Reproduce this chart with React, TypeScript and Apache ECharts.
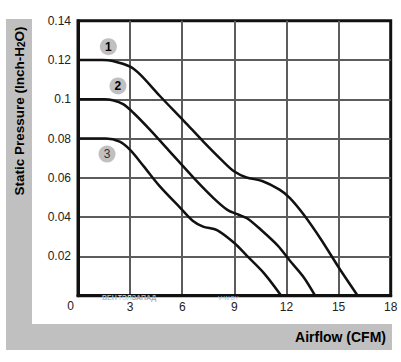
import React, { useEffect, useRef } from "react";
import * as echarts from "echarts";

const xTicks = [0, 3, 6, 9, 12, 15, 18];
const yTicks = [0.02, 0.04, 0.06, 0.08, 0.1, 0.12, 0.14];

const curve1: [number, number][] = [
  [0, 0.12], [1.4, 0.12], [2, 0.1195], [3, 0.1166], [3.6, 0.1124], [4.7, 0.1018],
  [6.1, 0.0889], [7.2, 0.0786], [8.3, 0.0688], [9, 0.0632], [9.7, 0.0602], [10.6, 0.0584],
  [11.6, 0.054], [12.2, 0.0497], [13, 0.0412], [14, 0.0285], [15, 0.0145], [16.1, 0],
];
const curve2: [number, number][] = [
  [0, 0.1], [1.5, 0.1], [2, 0.0995], [2.6, 0.0975], [3.2, 0.093], [4.15, 0.0844],
  [5.3, 0.0732], [6.7, 0.0596], [7.8, 0.0497], [8.6, 0.0437], [9.25, 0.0412], [9.75, 0.0393],
  [10.5, 0.0338], [11.5, 0.0255], [12.2, 0.0178], [13, 0.0093], [13.65, 0],
];
const curve3: [number, number][] = [
  [0, 0.08], [1.6, 0.08], [2.4, 0.0784], [3, 0.0742], [3.8, 0.0657], [4.7, 0.0558],
  [5.9, 0.0446], [6.6, 0.0382], [7.2, 0.0352], [8, 0.0334], [9, 0.0268], [9.7, 0.0205],
  [10.7, 0.0115], [11.7, 0],
];
const curveNames = ["1", "2", "3"];
const badgePos: [number, number][] = [[1.75, 0.1268], [2.3, 0.1068], [1.67, 0.0721]];

export default function App() {
  const ref = useRef<HTMLDivElement>(null);
  useEffect(() => {
    if (!ref.current) return;
    const chart = echarts.init(ref.current, undefined, { renderer: "svg" });
    const curves = [curve1, curve2, curve3];
    const font = "'Liberation Sans', Arial, sans-serif";
    chart.setOption({
      animation: false,
      backgroundColor: "#fff",
      textStyle: { fontFamily: font },
      grid: {
        left: 78, top: 20.7, right: 10.3, bottom: 66.3,
        show: true, borderColor: "#111", borderWidth: 3,
      },
      xAxis: {
        type: "value", min: 0, max: 18, interval: 3,
        axisLine: { show: true, lineStyle: { color: "#111", width: 3 } },
        axisTick: { show: false },
        axisLabel: { showMinLabel: false, margin: 5, fontSize: 12, color: "#222", fontFamily: font },
        splitLine: { show: true, showMinLine: false, showMaxLine: false, lineStyle: { color: "#5c5c5c", width: 2 } },
      },
      yAxis: {
        type: "value", min: 0, max: 0.14, interval: 0.02,
        axisLine: { show: true, lineStyle: { color: "#111", width: 3 } },
        axisTick: { show: false },
        axisLabel: {
          showMinLabel: false, margin: 7, fontSize: 12, color: "#222", fontFamily: font,
          formatter: (v: number) => {
            const found = yTicks.find((t) => Math.abs(t - v) < 1e-9);
            return found === undefined ? "" : String(found);
          },
        },
        splitLine: { show: true, showMinLine: false, showMaxLine: false, lineStyle: { color: "#5c5c5c", width: 2 } },
      },
      graphic: [
        { type: "rect", z: -10, shape: { x: 6, y: 19, width: 26, height: 331 }, style: { fill: "#c0c0c0" } },
        { type: "rect", z: -10, shape: { x: 6, y: 324, width: 386, height: 26 }, style: { fill: "#c0c0c0" } },
        {
          type: "text", x: 19, y: 111, rotation: Math.PI / 2, z: 10,
          style: {
            text: "{a|Static Pressure (Inch-H}{s|2}{a|O)}",
            align: "center", verticalAlign: "middle",
            rich: {
              a: { fontSize: 13.5, fontWeight: "bold", fill: "#000", fontFamily: font },
              s: { fontSize: 10, fontWeight: "bold", fill: "#000", fontFamily: font, padding: [4, 0, 0, 0] },
            },
          },
        },
        {
          type: "text", x: 386, y: 337, z: 10,
          style: { text: "Airflow (CFM)", align: "right", verticalAlign: "middle", fontSize: 14, fontWeight: "bold", fill: "#000", fontFamily: font },
        },
        {
          type: "text", x: 74, y: 306, z: 10,
          style: { text: String(xTicks[0]), align: "right", verticalAlign: "middle", fontSize: 12, fill: "#222", fontFamily: font },
        },
        {
          type: "text", x: 102, y: 297.5, z: 10,
          style: {
            text: "{b|ВЕН}{c|ТЭЛ}{d|ЗАПАД}",
            verticalAlign: "middle",
            rich: {
              b: { fontSize: 7, lineHeight: 7, fontWeight: "bold", fill: "#8cc4ec", fontFamily: font, padding: [0, 1, 0, 0] },
              c: { fontSize: 7, lineHeight: 7, fontWeight: "bold", fill: "#b5d9f3", fontFamily: font },
              d: { fontSize: 7, lineHeight: 7, fontWeight: "bold", fill: "#a8a8a8", fontFamily: font },
            },
          },
        },
        {
          type: "text", x: 218, y: 297.5, z: 10,
          style: { text: "V-W.BY", verticalAlign: "middle", fontSize: 6, lineHeight: 6, fill: "#9cc6ea", fontFamily: font },
        },
      ],
      series: curves.map((c, i) => ({
        type: "line",
        name: curveNames[i],
        data: c,
        smooth: 0.3,
        showSymbol: false,
        symbol: "none",
        z: 5,
        lineStyle: { color: "#111", width: 2.5 },
        markPoint: {
          symbol: "circle",
          symbolSize: 17,
          silent: true,
          itemStyle: { color: "#c0c0c0" },
          label: {
            show: true,
            formatter: curveNames[i],
            fontSize: 12,
            fontWeight: i === 2 ? "normal" : "bold",
            color: i === 2 ? "#333" : "#000",
            fontFamily: font,
          },
          data: [{ coord: badgePos[i] }],
        },
      })),
    });
    return () => chart.dispose();
  }, []);
  return <div ref={ref} style={{ position: "absolute", left: 0, top: 0, width: 401, height: 362 }} />;
}
